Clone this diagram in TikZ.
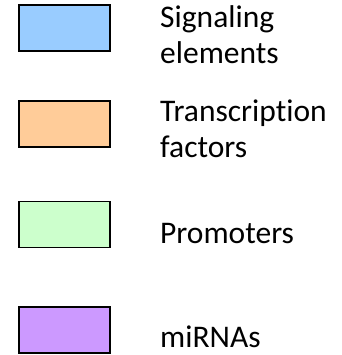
\documentclass[tikz,border=0pt]{standalone}
\usepackage{fontspec}
\setmainfont{Carlito}[Ligatures=CommonOff]
\usetikzlibrary{positioning}
\definecolor{sigblue}{RGB}{153,204,255}
\definecolor{tforange}{RGB}{255,204,153}
\definecolor{promgreen}{RGB}{204,255,204}
\definecolor{mirpurple}{RGB}{204,153,255}
\begin{document}
\begin{tikzpicture}[x=1pt, y=1pt,
	legbox/.style={draw, line width=1.4pt, minimum width=91pt, minimum height=46pt, inner sep=0pt},
	legtext/.style={font=\fontsize{31.5}{36}\selectfont, anchor=base west, inner sep=0pt, align=left}]
	
	\useasboundingbox (0,0) rectangle (341,-355);
	
	%//legend boxes
	\foreach \name/\col/\y in {sig/sigblue/28, tf/tforange/124, prom/promgreen/224.5, mir/mirpurple/330}
	\node [legbox, fill=\col] (\name) at (64.5,-\y) {};
	
	%//legend texts (base = last line)
	\node [legtext] (sigtext) at (160,-63.5) {Signaling\\elements};
	\node [legtext] (tftext) at (160,-158) {Transcription\\factors};
	\node [legtext] (promtext) at (160,-243) {Promoters};
	\node [legtext] (mirtext) at (160,-347) {miRNAs};
	
\end{tikzpicture}
\end{document}
